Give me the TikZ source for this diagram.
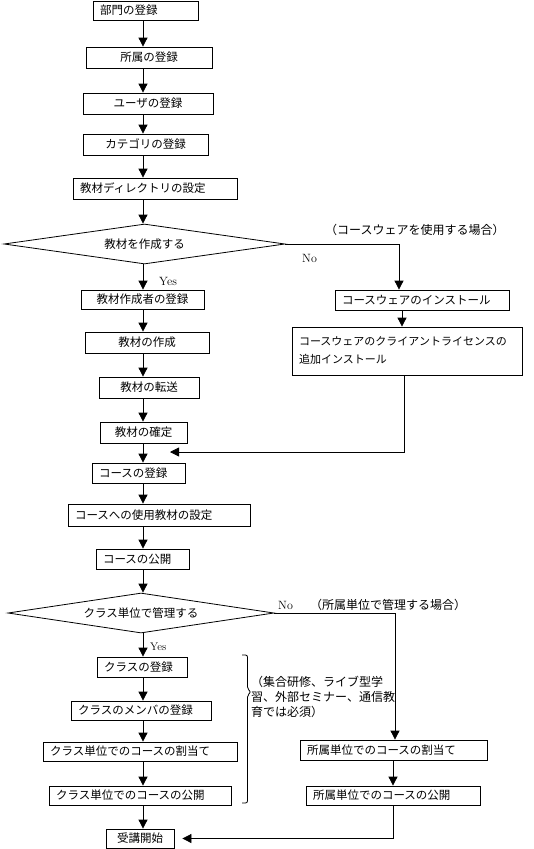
\documentclass[tikz,border=0pt]{standalone}
\usepackage{fontspec}
\usepackage{tikz}
\usetikzlibrary{positioning, shapes.geometric, arrows.meta}
\newfontfamily\jpfont{Noto Sans CJK JP}
\tikzstyle{chart} = [x = 1pt, y = -1pt]
\tikzstyle{boxStyle} = [draw, rectangle, line width = .8pt, inner xsep = 7pt, inner ysep = 0pt, font = \jpfont\fontsize{11.5}{18}\selectfont]
\tikzstyle{decisionStyle} = [draw, diamond, aspect = 7, inner sep = 0pt, line width = .8pt, font = \jpfont\fontsize{11.5}{14}\selectfont]
\tikzstyle{flowLine} = [line width = .8pt]
\tikzstyle{flowArrow} = [flowLine, -{Triangle[length = 9pt, width = 9pt]}]
\tikzstyle{noteText} = [font = \jpfont\fontsize{12}{15}\selectfont, inner sep = 0pt, align = left]
\tikzstyle{answerText} = [font = \fontsize{12}{14}\selectfont, inner sep = 0pt]
\newcommand{\flowBox}[7][align = center]{
  \pgfmathsetmacro{\boxWidth}{#5 - #3}
  \pgfmathsetmacro{\boxHeight}{#6 - #4}
  \pgfmathsetmacro{\boxTextWidth}{#5 - #3 - 14}
  \node [boxStyle, #1, text width = \boxTextWidth pt, minimum width = \boxWidth pt, minimum height = \boxHeight pt] (#2) at ({(#3 + #5) / 2}, {(#4 + #6) / 2}) {#7};
}
\begin{document}
\begin{tikzpicture}[chart]
  \useasboundingbox (0,0) rectangle (534,849);
  % left column
  \flowBox[align = left]{dept}{93}{1}{198}{20}{部門の登録}
  \flowBox{affil}{86}{47}{212}{68}{所属の登録}
  \flowBox{user}{83}{93}{213}{114}{ユーザの登録}
  \flowBox{category}{83}{134}{208}{155}{カテゴリの登録}
  \flowBox[align = left]{matDir}{73}{178}{237}{199}{教材ディレクトリの設定}
  \node [decisionStyle, minimum width = 281pt, minimum height = 40pt] (makeMat) at (144.5, 244) {教材を作成する};
  \flowBox{author}{81}{290}{204}{309}{教材作成者の登録}
  \flowBox{create}{85}{332}{209}{353}{教材の作成}
  \flowBox{transfer}{99}{377}{199}{398}{教材の転送}
  \flowBox{confirm}{100}{422}{187}{443}{教材の確定}
  \flowBox[align = left]{regCourse}{92}{463}{185}{483}{コースの登録}
  \flowBox[align = left]{courseMat}{68}{504}{250}{526}{コースへの使用教材の設定}
  \flowBox[align = left]{publish}{96}{549}{189}{569}{コースの公開}
  \node [decisionStyle, minimum width = 266pt, minimum height = 40pt] (classUnit) at (141, 613) {クラス単位で管理する};
  \flowBox[align = left]{classReg}{97}{657}{187}{677}{クラスの登録}
  \flowBox[inner xsep = 5pt]{member}{71}{701}{211}{720}{クラスのメンバの登録}
  \flowBox[align = left]{classAssign}{43}{742}{237}{761}{クラス単位でのコースの割当て}
  \flowBox[align = left]{classPub}{49}{786}{231}{805}{クラス単位でのコースの公開}
  \flowBox{start}{106}{829}{174}{848}{受講開始}
  % right column
  \flowBox[align = left]{install}{335}{290}{509}{310}{コースウェアのインストール}
  \flowBox[align = left, font = \jpfont\fontsize{11}{18}\selectfont]{license}{292}{327}{522}{375}{コースウェアのクライアントライセンスの\\追加インストール}
  \flowBox[align = left]{unitAssign}{300}{740}{487}{760}{所属単位でのコースの割当て}
  \flowBox[align = left]{unitPub}{306}{786}{480}{805}{所属単位でのコースの公開}

  % labels
  \node [noteText, anchor = west] (useCourseware) at (325, 230) {（コースウェアを使用する場合）};
  \node [answerText, anchor = west] (noFirst) at (302, 258) {No};
  \node [answerText, anchor = west] (yesFirst) at (159, 281) {Yes};
  \node [answerText, anchor = west] (noSecond) at (278, 605) {No};
  \node [noteText, anchor = west] (unitCase) at (310, 605) {（所属単位で管理する場合）};
  \node [answerText, font = \fontsize{11}{13}\selectfont, anchor = west] (yesSecond) at (150, 647) {Yes};
  \node [noteText, anchor = west] (classNote) at (251, 697) {（集合研修、ライブ型学\\習、外部セミナー、通信教\\育では必須）};

  % connectors
  \coordinate (spine) at (143, 0);
  \foreach \upper/\lower in {dept/affil, affil/user, user/category, category/matDir, matDir/makeMat,
    makeMat/author, author/create, create/transfer, transfer/confirm, confirm/regCourse,
    regCourse/courseMat, courseMat/publish, publish/classUnit, classUnit/classReg,
    classReg/member, member/classAssign, classAssign/classPub, classPub/start} {
    \draw [flowArrow] (\upper.south -| spine) -- (\lower.north -| spine);
  }
  \coordinate (noDrop) at (399, 0);
  \draw [flowArrow] (makeMat.east) -| (install.north -| noDrop);
  \coordinate (licenseLink) at (402, 0);
  \draw [flowArrow] (install.south -| licenseLink) -- (license.north -| licenseLink);
  \coordinate (licenseTurn) at (404, 0);
  \coordinate (mergeTip) at (170, 452);
  \draw [flowArrow] (license.south -| licenseTurn) |- (mergeTip);
  \coordinate (unitDrop) at (395, 0);
  \draw [flowArrow] (classUnit.east) -| (unitAssign.north -| unitDrop);
  \coordinate (unitLink) at (393, 0);
  \draw [flowArrow] (unitAssign.south -| unitLink) -- (unitPub.north -| unitLink);
  \draw [flowArrow] (unitPub.south -| unitLink) |- ([xshift = 8pt]start.east);

  % brace
  \draw [flowLine, rounded corners = 2pt] (242,655) -- (247.5,655) -- (247.5,689) -- (251,692) -- (247.5,695) -- (247.5,803) -- (242,803);
\end{tikzpicture}
\end{document}
